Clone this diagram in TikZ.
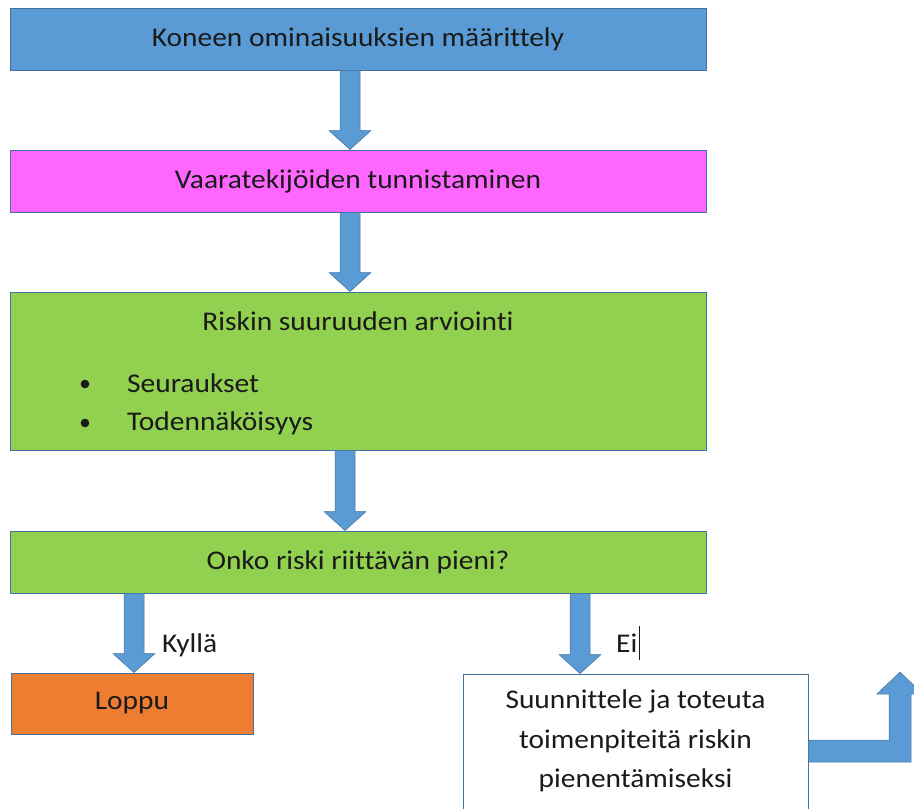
\documentclass[tikz,border=0pt]{standalone}
\usepackage{fontspec}
\setmainfont[FakeStretch=1.09, Ligatures={NoCommon}]{Carlito}
\usetikzlibrary{calc}
\definecolor{bblue}{HTML}{5B9BD5}
\definecolor{bline}{HTML}{41719C}
\definecolor{bmag}{HTML}{FF66FF}
\definecolor{bgreen}{HTML}{92D050}
\definecolor{borange}{HTML}{ED7D31}
\definecolor{txt}{HTML}{1A1A1A}
\tikzset{
  stepbox/.style={draw=bline, line width=0.9pt, inner sep=0pt, text=txt,
    font=\fontsize{27}{30}\selectfont},
  lbl/.style={inner sep=0pt, text=txt, font=\fontsize{27}{30}\selectfont, anchor=base west},
  barrow/.style={fill=bblue, draw=bline, line width=0.5pt, line join=miter},
}
\newcommand\blockdown[3]{%
  \path (#2.south -| #1,0) coordinate (ta) (#3.north -| #1,0) coordinate (tb);
  \filldraw[barrow] ($(ta)+(-10,0)$) -- ($(tb)+(-10,-19)$) -- ($(tb)+(-21,-19)$) -- (tb)
    -- ($(tb)+(21,-19)$) -- ($(tb)+(10,-19)$) -- ($(ta)+(10,0)$) -- cycle;}
\begin{document}
\begin{tikzpicture}[x=1pt,y=-1pt]
\useasboundingbox (0,0) rectangle (914,809);
\clip (0,0) rectangle (914,809);
\fill[white] (0,0) rectangle (914,809);
\node[stepbox, fill=bblue, minimum width=696pt, minimum height=62pt] (b1) at (358,39) {Koneen ominaisuuksien määrittely};
\node[stepbox, fill=bmag, minimum width=696pt, minimum height=62pt] (b2) at (358,181) {Vaaratekijöiden tunnistaminen};
\node[stepbox, fill=bgreen, minimum width=696pt, minimum height=158pt] (b3) at (358,371) {};
\node[lbl, anchor=base] (b3t) at (358,330) {Riskin suuruuden arviointi};
\node[lbl] (bu1) at (127,392) {Seuraukset};
\node[lbl] (bu2) at (127,430) {Todennäköisyys};
\fill[txt] (85,384) circle (4.3pt) coordinate (d1);
\fill[txt] (85,423) circle (4.3pt) coordinate (d2);
\node[stepbox, fill=bgreen, minimum width=696pt, minimum height=62pt] (b4) at (358,562) {Onko riski riittävän pieni?};
\node[stepbox, fill=borange, minimum width=242pt, minimum height=61pt] (b5) at (132,703.5) {Loppu};
\node[stepbox, fill=white, minimum width=345pt, minimum height=156pt] (b6) at (635.5,752) {};
\node[lbl, anchor=base] (b6a) at (635.5,708) {Suunnittele ja toteuta};
\node[lbl, anchor=base] (b6b) at (635.5,748) {toimenpiteitä riskin};
\node[lbl, anchor=base] (b6c) at (635.5,787) {pienentämiseksi};
\node[lbl] (kyl) at (162,652) {Kyllä};
\node[lbl] (ei) at (616,652) {Ei};
\draw[txt, line width=0.9pt] (ei.base east) ++(2,8) coordinate (c1) -- ++(0,-34) coordinate (c2);
\blockdown{350}{b1}{b2}
\blockdown{350}{b2}{b3}
\blockdown{345}{b3}{b4}
\blockdown{134}{b4}{b5}
\blockdown{580}{b4}{b6}
\path (b6.east |- 0,740) coordinate (e1) (b6.east |- 0,762) coordinate (e2);
\filldraw[barrow] (e1) -- (889,740) -- (889,694) -- (877,694) -- (900,672) -- (923,694)
  -- (911,694) -- (911,762) -- (e2) -- cycle;
\end{tikzpicture}
\end{document}
